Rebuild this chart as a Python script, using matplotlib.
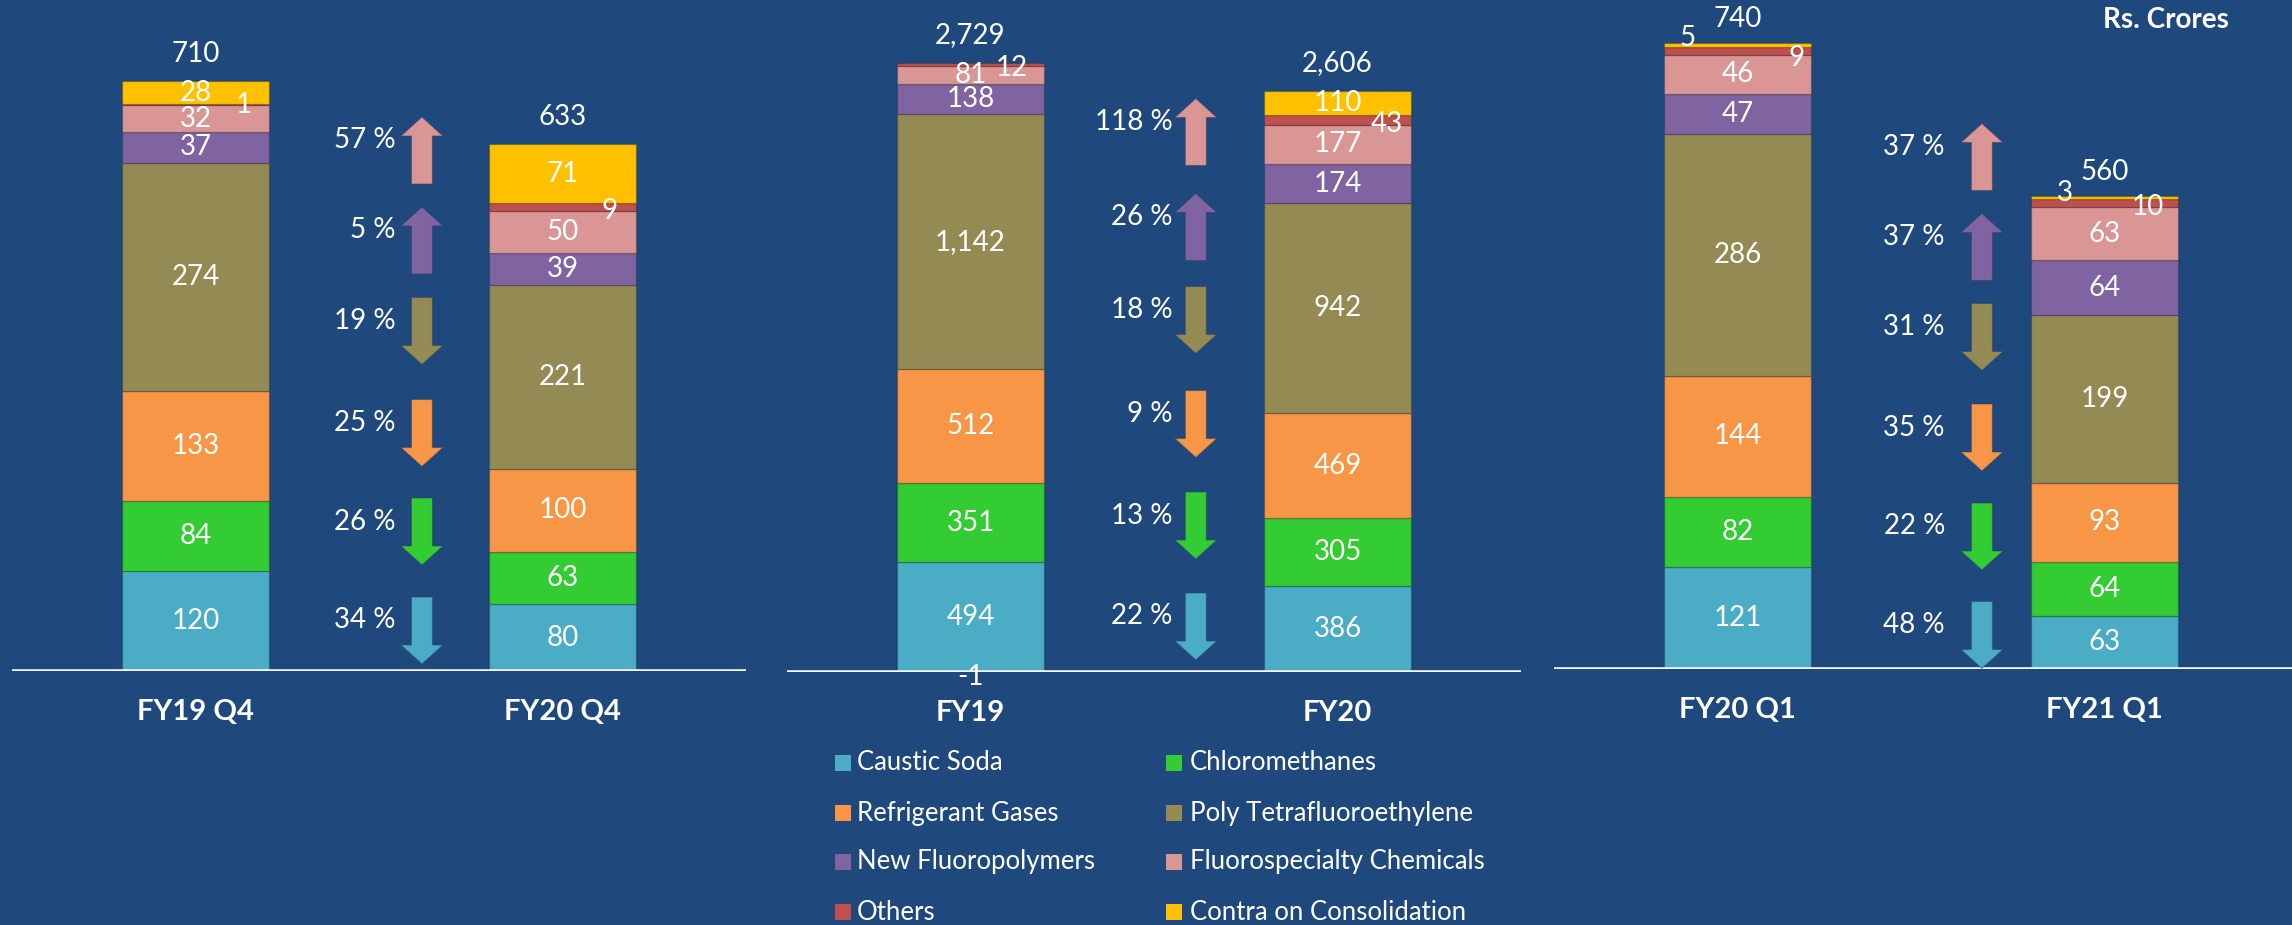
import matplotlib
matplotlib.use('Agg')
import matplotlib.pyplot as plt
from matplotlib.patches import Rectangle
from matplotlib.transforms import blended_transform_factory

plt.rcParams['font.family'] = ['Lato', 'DejaVu Sans']

BG = '#1F497D'
W, H = 2292, 925

series = ['Caustic Soda', 'Chloromethanes', 'Refrigerant Gases', 'Poly Tetrafluoroethylene',
          'New Fluoropolymers', 'Fluorospecialty Chemicals', 'Others', 'Contra on Consolidation']
colors = ['#4BACC6', '#33CC33', '#F79646', '#948A54', '#8064A2', '#D99694', '#C0504D', '#FFC000']

# Panel 1: quarter 4
q4_categories = ['FY19 Q4', 'FY20 Q4']
q4_values = [[120, 80], [84, 63], [133, 100], [274, 221], [37, 39], [32, 50], [1, 9], [28, 71]]
q4_totals = [710, 633]
q4_changes = [-34, -26, -25, -19, 5, 57]   # caustic .. fluorospecialty

# Panel 2: full year
fy_categories = ['FY19', 'FY20']
fy_values = [[494, 386], [351, 305], [512, 469], [1142, 942], [138, 174], [81, 177], [12, 43], [-1, 110]]
fy_totals = [2729, 2606]
fy_changes = [-22, -13, -9, -18, 26, 118]

# Panel 3: quarter 1
q1_categories = ['FY20 Q1', 'FY21 Q1']
q1_values = [[121, 63], [82, 64], [144, 93], [286, 199], [47, 64], [46, 63], [9, 10], [5, 3]]
q1_totals = [740, 560]
q1_changes = [-48, -22, -35, -31, 37, 37]

panels = [
    dict(cats=q4_categories, vals=q4_values, totals=q4_totals, changes=q4_changes,
         left=12, width=734, base=671, ytop=806.5, arrow_x=0.617, gap=26, tot_off=27,
         mids=[630.5, 531.5, 433, 331, 240.5, 150.5]),
    dict(cats=fy_categories, vals=fy_values, totals=fy_totals, changes=fy_changes,
         left=787, width=734, base=672, ytop=3012, arrow_x=0.614, gap=23, tot_off=28,
         mids=[626.5, 525.5, 424, 320, 227, 132]),
    dict(cats=q1_categories, vals=q1_values, totals=q1_totals, changes=q1_changes,
         left=1554, width=738, base=669, ytop=791, arrow_x=0.666, gap=37, tot_off=24,
         mids=[635, 536.5, 437.5, 337, 247, 157]),
]

# label offsets in pixels (dx right, dy down) for small segments
special = {
    (0, 0, 6): (48, 0), (0, 1, 6): (47, 4),
    (1, 0, 6): (41, 4), (1, 1, 6): (49, 4), (1, 0, 7): (0, 5),
    (2, 0, 7): (-50, -7), (2, 0, 6): (59, 7), (2, 1, 7): (-40, -4), (2, 1, 6): (43, 4),
}

PT = 0.72  # points per pixel at dpi 100

fig = plt.figure(figsize=(W / 100, H / 100), dpi=100, facecolor=BG)

for pi, p in enumerate(panels):
    ax = fig.add_axes([p['left'] / W, (H - p['base']) / H, p['width'] / W, p['base'] / H])
    ax.set_facecolor('none')
    ax.set_xlim(-0.5, -0.5 + p['width'] / 367.0)
    ax.set_ylim(0, p['ytop'])
    for s in ax.spines.values():
        s.set_visible(False)
    ax.set_yticks([])
    xs = list(range(len(p['cats'])))
    ax.set_xticks(xs, p['cats'])
    ax.tick_params(axis='x', length=0, pad=20, labelsize=21, labelcolor='white')
    for t in ax.get_xticklabels():
        t.set_fontweight('bold')

    pos_bottom = [0.0] * len(xs)
    neg_bottom = [0.0] * len(xs)
    for si, (vals, col) in enumerate(zip(p['vals'], colors)):
        bottoms = []
        for bi, v in enumerate(vals):
            if v >= 0:
                bottoms.append(pos_bottom[bi])
                pos_bottom[bi] += v
            else:
                bottoms.append(neg_bottom[bi])
                neg_bottom[bi] += v
        ax.bar(xs, vals, bottom=bottoms, width=0.4, color=col,
               edgecolor=(0, 0, 0, 0.18), linewidth=1.0, zorder=2)
        for bi, v in enumerate(vals):
            mid = bottoms[bi] + v / 2.0
            dx, dy = special.get((pi, bi, si), (0, 0))
            ax.annotate(f'{v:,}', xy=(xs[bi], mid), xytext=(dx * PT, -dy * PT),
                        textcoords='offset points', ha='center', va='center',
                        color='white', fontsize=20, zorder=4, annotation_clip=False)

    for bi, tot in enumerate(p['totals']):
        ax.annotate(f'{tot:,}', xy=(xs[bi], pos_bottom[bi]), xytext=(0, p['tot_off'] * PT),
                    textcoords='offset points', ha='center', va='center',
                    color='white', fontsize=20, annotation_clip=False)

    ax.axhline(0, color='#F4F4F4', lw=2.6, zorder=3)

    trans = blended_transform_factory(ax.transData, ax.transAxes)
    L = 67.0
    for si, ch in enumerate(p['changes']):
        mid_frac = 1 - p['mids'][si] / p['base']
        sign = 1 if ch > 0 else -1
        tip_frac = mid_frac + sign * (L / 2) / p['base']
        col = colors[si]
        ax.annotate('', xy=(p['arrow_x'], tip_frac), xycoords=trans,
                    xytext=(0, -sign * L * PT), textcoords='offset points',
                    arrowprops=dict(arrowstyle=f'simple,head_length={19 * PT},head_width={42 * PT},tail_width={21 * PT}',
                                    mutation_scale=1, fc=col, ec=(0.2, 0.25, 0.4, 0.5), lw=0.8,
                                    shrinkA=0, shrinkB=0), annotation_clip=False)
        ax.annotate(f'{abs(ch)} %', xy=(p['arrow_x'], mid_frac), xycoords=trans,
                    xytext=(-p['gap'] * PT, 10 * PT), textcoords='offset points',
                    ha='right', va='center', color='white', fontsize=20, annotation_clip=False)

# Legend (two columns, row-wise order)
leg_cols = [(835, 857), (1166, 1190)]
leg_rows = [763, 813, 862, 912]
for i, (name, col) in enumerate(zip(series, colors)):
    r, c = divmod(i, 2)
    sx, tx = leg_cols[c]
    y = leg_rows[r]
    sq = 16
    fig.patches.append(Rectangle((sx / W, (H - y - sq / 2) / H), sq / W, sq / H,
                                 transform=fig.transFigure, facecolor=col, edgecolor='none'))
    fig.text(tx / W, (H - y) / H, name, ha='left', va='center', color='white', fontsize=18.5)

fig.text(2229 / W, 1 - 20 / H, 'Rs. Crores', ha='right', va='center', color='white',
         fontsize=20, fontweight='bold')

fig.savefig('out.png', dpi=100, facecolor=BG)
